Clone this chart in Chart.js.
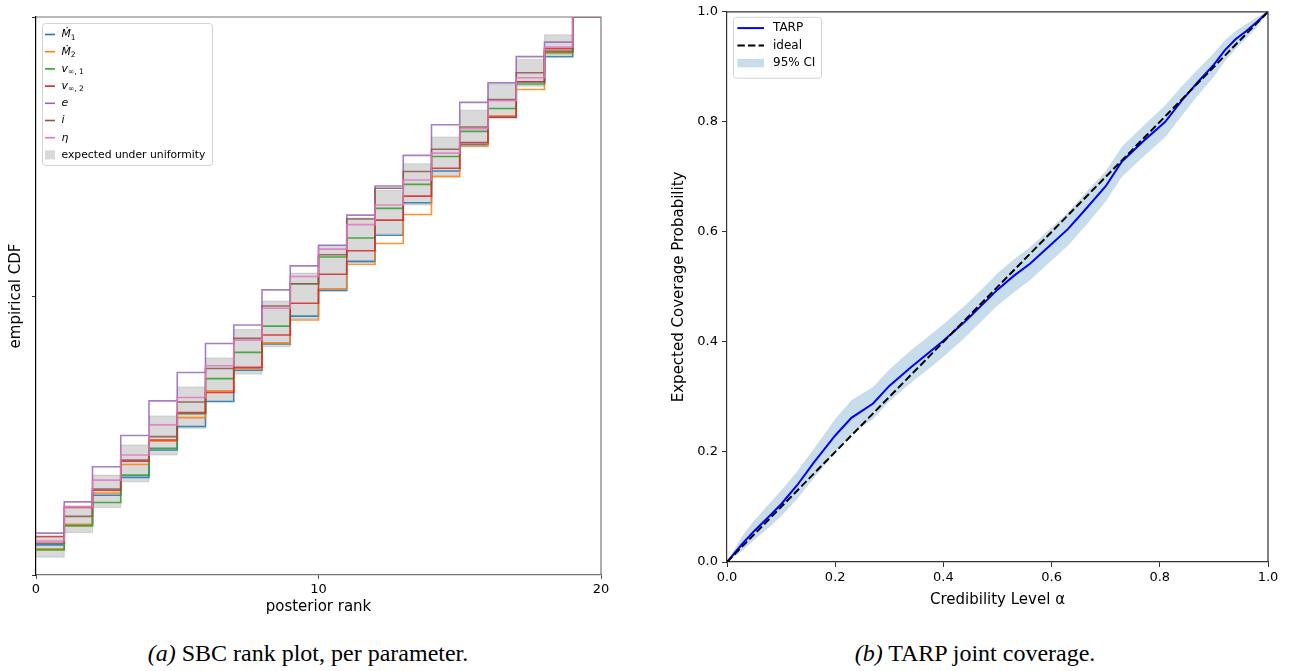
<!DOCTYPE html>
<html>
<head>
<meta charset="utf-8">
<title>SBC rank plot and TARP coverage</title>
<script src="https://cdn.jsdelivr.net/npm/chart.js@4"></script>
<style>
  body { margin: 0; background: #fff; width: 1289px; height: 671px; position: relative; overflow: hidden; }
  canvas { position: absolute; top: 0; }
  #sbcChart { left: 0; }
  #tarpChart { left: 640px; }
  .cap { position: absolute; top: 640px; width: 640px; text-align: center;
         font-family: "Liberation Serif", serif; font-size: 24px; color: #000; }
</style>
</head>
<body>
<canvas id="sbcChart" width="640" height="630"></canvas>
<canvas id="tarpChart" width="649" height="630"></canvas>
<div class="cap" style="left:0;width:616px"><i>(a)</i> SBC rank plot, per parameter.</div>
<div class="cap" style="left:655px"><i>(b)</i> TARP joint coverage.</div>
<script>
    // ---- left panel: SBC ECDF per parameter (value held from rank k to k+1) ----
    const ranks = [0,1,2,3,4,5,6,7,8,9,10,11,12,13,14,15,16,17,18,19,20];
    const cdfM1  = [0.054,0.090,0.143,0.175,0.224,0.266,0.311,0.367,0.414,0.464,0.510,0.562,0.609,0.667,0.724,0.772,0.821,0.884,0.929,1,1];
    const cdfM2  = [0.047,0.091,0.147,0.198,0.240,0.282,0.330,0.370,0.416,0.457,0.513,0.557,0.594,0.646,0.714,0.769,0.823,0.870,0.935,1,1];
    const cdfV1  = [0.045,0.088,0.130,0.179,0.227,0.289,0.352,0.399,0.446,0.522,0.570,0.604,0.657,0.700,0.750,0.795,0.836,0.880,0.937,1,1];
    const cdfV2  = [0.069,0.121,0.152,0.204,0.242,0.291,0.327,0.372,0.430,0.487,0.539,0.581,0.636,0.679,0.729,0.775,0.820,0.884,0.943,1,1];
    const cdfE   = [0.075,0.131,0.194,0.250,0.312,0.363,0.415,0.448,0.511,0.554,0.591,0.645,0.697,0.752,0.807,0.847,0.882,0.929,0.955,1,1];
    const cdfI   = [0.057,0.105,0.154,0.206,0.248,0.310,0.370,0.424,0.482,0.522,0.574,0.638,0.693,0.723,0.763,0.803,0.852,0.900,0.939,1,1];
    const cdfEta = [0.061,0.122,0.170,0.215,0.269,0.318,0.375,0.421,0.478,0.535,0.584,0.628,0.663,0.708,0.756,0.800,0.850,0.891,0.946,1,1];
    // expected under uniformity (band)
    const uniLower = [0.032,0.076,0.121,0.167,0.215,0.263,0.311,0.360,0.409,0.459,0.509,0.560,0.611,0.663,0.715,0.767,0.821,0.876,0.932,1,1];
    const uniUpper = [0.068,0.124,0.179,0.233,0.285,0.337,0.389,0.440,0.491,0.541,0.591,0.640,0.689,0.737,0.785,0.833,0.879,0.924,0.968,1,1];

    // ---- right panel: TARP ----
    const tarpAlpha = [0,0.03,0.05,0.08,0.10,0.13,0.16,0.18,0.20,0.23,0.27,0.30,0.34,0.37,0.40,0.44,0.47,0.50,0.53,0.56,0.60,0.63,0.66,0.70,0.73,0.77,0.81,0.84,0.87,0.90,0.92,0.94,0.96,0.98,1.00];
    const tarpCov   = [0,0.035,0.056,0.085,0.105,0.140,0.180,0.205,0.230,0.262,0.288,0.320,0.354,0.378,0.402,0.437,0.466,0.495,0.520,0.542,0.578,0.605,0.638,0.683,0.728,0.765,0.800,0.838,0.872,0.904,0.930,0.950,0.965,0.982,1.000];
    const ciUpper   = [0,0.050,0.075,0.108,0.130,0.165,0.205,0.232,0.260,0.294,0.318,0.350,0.385,0.408,0.432,0.466,0.495,0.525,0.550,0.572,0.608,0.635,0.668,0.710,0.755,0.793,0.830,0.864,0.895,0.925,0.948,0.965,0.978,0.990,1];
    const ciLower   = [0,0.022,0.040,0.065,0.083,0.115,0.152,0.176,0.201,0.232,0.260,0.292,0.326,0.349,0.373,0.408,0.437,0.466,0.490,0.512,0.548,0.575,0.608,0.655,0.700,0.737,0.772,0.810,0.848,0.882,0.910,0.932,0.952,0.972,1];
    const idealX = [0, 1];
    const idealY = [0, 1];

    const seriesColors = ['#1f77b4','#ff7f0e','#2ca02c','#d62728','#9467bd','#8c564b','#e377c2'];
    const seriesData = [cdfM1, cdfM2, cdfV1, cdfV2, cdfE, cdfI, cdfEta];
    // legend labels as pieces (italic symbol + subscript)
    const seriesLabels = [
        [{t:'Ṁ', it:true}, {t:'1', sub:true}],
        [{t:'Ṁ', it:true}, {t:'2', sub:true}],
        [{t:'v', it:true}, {t:'∞, 1', sub:true}],
        [{t:'v', it:true}, {t:'∞, 2', sub:true}],
        [{t:'e', it:true}],
        [{t:'i', it:true}],
        [{t:'η', it:true}]
    ];

    Chart.defaults.font.family = '"DejaVu Sans", sans-serif';
    Chart.defaults.color = '#000';

    function pts(xs, ys) { return xs.map((x, i) => ({x: x, y: ys[i]})); }

    // legend drawn in a box inside the plot area, matplotlib style
    const boxLegend = {
        id: 'boxLegend',
        afterDraw(chart, args, o) {
            const ctx = chart.ctx, a = chart.chartArea;
            const bx = a.left + o.dx, by = a.top + o.dy;
            ctx.save();
            ctx.fillStyle = 'rgba(255,255,255,0.8)';
            ctx.strokeStyle = '#d4d4d4';
            ctx.lineWidth = 1;
            ctx.beginPath();
            ctx.roundRect(bx + 0.5, by + 0.5, o.w, o.h, 3);
            ctx.fill();
            ctx.stroke();
            o.items.forEach((it, i) => {
                const cy = by + o.first + i * o.gap;
                const hx0 = bx + o.hx0, hx1 = bx + o.hx1;
                if (it.kind === 'patch') {
                    ctx.fillStyle = it.color;
                    ctx.fillRect(hx0, cy - o.patchH / 2, hx1 - hx0, o.patchH);
                } else {
                    ctx.strokeStyle = it.color;
                    ctx.lineWidth = it.width;
                    ctx.setLineDash(it.dash || []);
                    ctx.beginPath();
                    ctx.moveTo(hx0, cy);
                    ctx.lineTo(hx1, cy);
                    ctx.stroke();
                    ctx.setLineDash([]);
                }
                let tx = bx + o.tx;
                ctx.fillStyle = '#000';
                ctx.textBaseline = 'middle';
                it.label.forEach(seg => {
                    const size = seg.sub ? o.size * 0.7 : o.size;
                    ctx.font = (seg.it ? 'italic ' : '') + size + 'px "DejaVu Sans"';
                    ctx.fillText(seg.t, tx, cy + (seg.sub ? o.size * 0.3 : 0));
                    tx += ctx.measureText(seg.t).width;
                });
            });
            ctx.restore();
        }
    };

    // top and right spines
    const frame = {
        id: 'frame',
        afterDatasetsDraw(chart, args, o) {
            const ctx = chart.ctx, a = chart.chartArea;
            ctx.save();
            ctx.strokeStyle = o.color;
            ctx.lineWidth = o.width;
            ctx.beginPath();
            ctx.moveTo(a.left, a.top);
            ctx.lineTo(a.right, a.top);
            ctx.lineTo(a.right, a.bottom);
            ctx.stroke();
            ctx.restore();
        }
    };

    // ---------- SBC chart ----------
    const sbcDatasets = [
        {
            label: 'uniform lower', data: pts(ranks, uniLower), stepped: true,
            borderColor: 'rgba(128,128,128,0.25)', borderWidth: 1, pointRadius: 0, fill: false, order: 20
        },
        {
            label: 'expected under uniformity', data: pts(ranks, uniUpper), stepped: true,
            borderColor: 'rgba(128,128,128,0.25)', borderWidth: 1, pointRadius: 0,
            fill: '-1', backgroundColor: 'rgba(128,128,128,0.3)', order: 19
        }
    ];
    seriesData.forEach((vals, i) => {
        sbcDatasets.push({
            label: 'p' + i, data: pts(ranks, vals), stepped: true,
            borderColor: seriesColors[i] + 'd9', borderWidth: 1.6, pointRadius: 0,
            fill: false, order: 10 - i
        });
    });

    const sbcLegendItems = seriesLabels.map((lab, i) => ({kind: 'line', color: seriesColors[i], width: 1.6, label: lab}));
    sbcLegendItems.push({kind: 'patch', color: 'rgba(128,128,128,0.3)', label: [{t: 'expected under uniformity'}]});

    new Chart(document.getElementById('sbcChart'), {
        type: 'line',
        data: {datasets: sbcDatasets},
        plugins: [boxLegend, frame],
        options: {
            responsive: false,
            animation: false,
            layout: {padding: {left: 0, right: 39, top: 17, bottom: 10}},
            plugins: {
                legend: {display: false},
                tooltip: {enabled: false},
                frame: {color: '#777', width: 1.2},
                boxLegend: {
                    dx: 6, dy: 6, w: 170, h: 142, first: 11.5, gap: 17.2,
                    hx0: 3, hx1: 13, tx: 19.5, size: 10.8, patchH: 9,
                    items: sbcLegendItems
                }
            },
            scales: {
                x: {
                    type: 'linear', min: 0, max: 20,
                    ticks: {stepSize: 10, font: {size: 13}, padding: 3, maxRotation: 0},
                    grid: {drawOnChartArea: false, tickLength: 4, color: '#555'},
                    border: {color: '#777', width: 1.2},
                    title: {display: true, text: 'posterior rank', font: {size: 15}, padding: {top: 0, bottom: 4}},
                    afterFit: s => { s.height = 45; }
                },
                y: {
                    type: 'linear', min: 0, max: 1,
                    ticks: {stepSize: 0.5, callback: () => ''},
                    grid: {drawOnChartArea: false, tickLength: 4, color: '#333'},
                    border: {color: '#000', width: 1.2},
                    title: {display: true, text: 'empirical CDF', font: {size: 15}, padding: {top: 7, bottom: 0}},
                    afterFit: s => { s.width = 36; }
                }
            }
        }
    });

    // ---------- TARP chart ----------
    const tarpLegendItems = [
        {kind: 'line', color: '#0000ff', width: 2, label: [{t: 'TARP'}]},
        {kind: 'line', color: '#000', width: 2, dash: [7.4, 3.2], label: [{t: 'ideal'}]},
        {kind: 'patch', color: 'rgba(31,119,180,0.25)', label: [{t: '95% CI'}]}
    ];

    new Chart(document.getElementById('tarpChart'), {
        type: 'line',
        data: {
            datasets: [
                {label: 'ci lower', data: pts(tarpAlpha, ciLower), borderWidth: 0, pointRadius: 0, fill: false, order: 4},
                {label: '95% CI', data: pts(tarpAlpha, ciUpper), borderWidth: 0, pointRadius: 0,
                 fill: '-1', backgroundColor: 'rgba(31,119,180,0.25)', order: 3},
                {label: 'ideal', data: pts(idealX, idealY), borderColor: '#000', borderWidth: 2,
                 borderDash: [7.4, 3.2], pointRadius: 0, fill: false, order: 1},
                {label: 'TARP', data: pts(tarpAlpha, tarpCov), borderColor: '#0000ff', borderWidth: 2,
                 pointRadius: 0, fill: false, order: 2}
            ]
        },
        plugins: [boxLegend, frame],
        options: {
            responsive: false,
            animation: false,
            layout: {padding: {left: 0, right: 21, top: 11, bottom: 10}},
            plugins: {
                legend: {display: false},
                tooltip: {enabled: false},
                frame: {color: '#333', width: 1.2},
                boxLegend: {
                    dx: 6, dy: 5, w: 88, h: 61, first: 11.3, gap: 17.5,
                    hx0: 4.4, hx1: 31, tx: 40, size: 12, patchH: 8.4,
                    items: tarpLegendItems
                }
            },
            scales: {
                x: {
                    type: 'linear', min: 0, max: 1,
                    ticks: {stepSize: 0.2, font: {size: 13}, padding: 3, maxRotation: 0, callback: v => v.toFixed(1)},
                    grid: {drawOnChartArea: false, tickLength: 5, color: '#333'},
                    border: {color: '#333', width: 1.2},
                    title: {display: true, text: 'Credibility Level α', font: {size: 15}, padding: {top: 0, bottom: 11}},
                    afterFit: s => { s.height = 58; }
                },
                y: {
                    type: 'linear', min: 0, max: 1,
                    ticks: {stepSize: 0.2, font: {size: 13}, padding: 4, callback: v => v.toFixed(1)},
                    grid: {drawOnChartArea: false, tickLength: 5, color: '#333'},
                    border: {color: '#333', width: 1.2},
                    title: {display: true, text: 'Expected Coverage Probability', font: {size: 15}, padding: {top: 30, bottom: 0}},
                    afterFit: s => { s.width = 87; }
                }
            }
        }
    });
</script>
</body>
</html>
